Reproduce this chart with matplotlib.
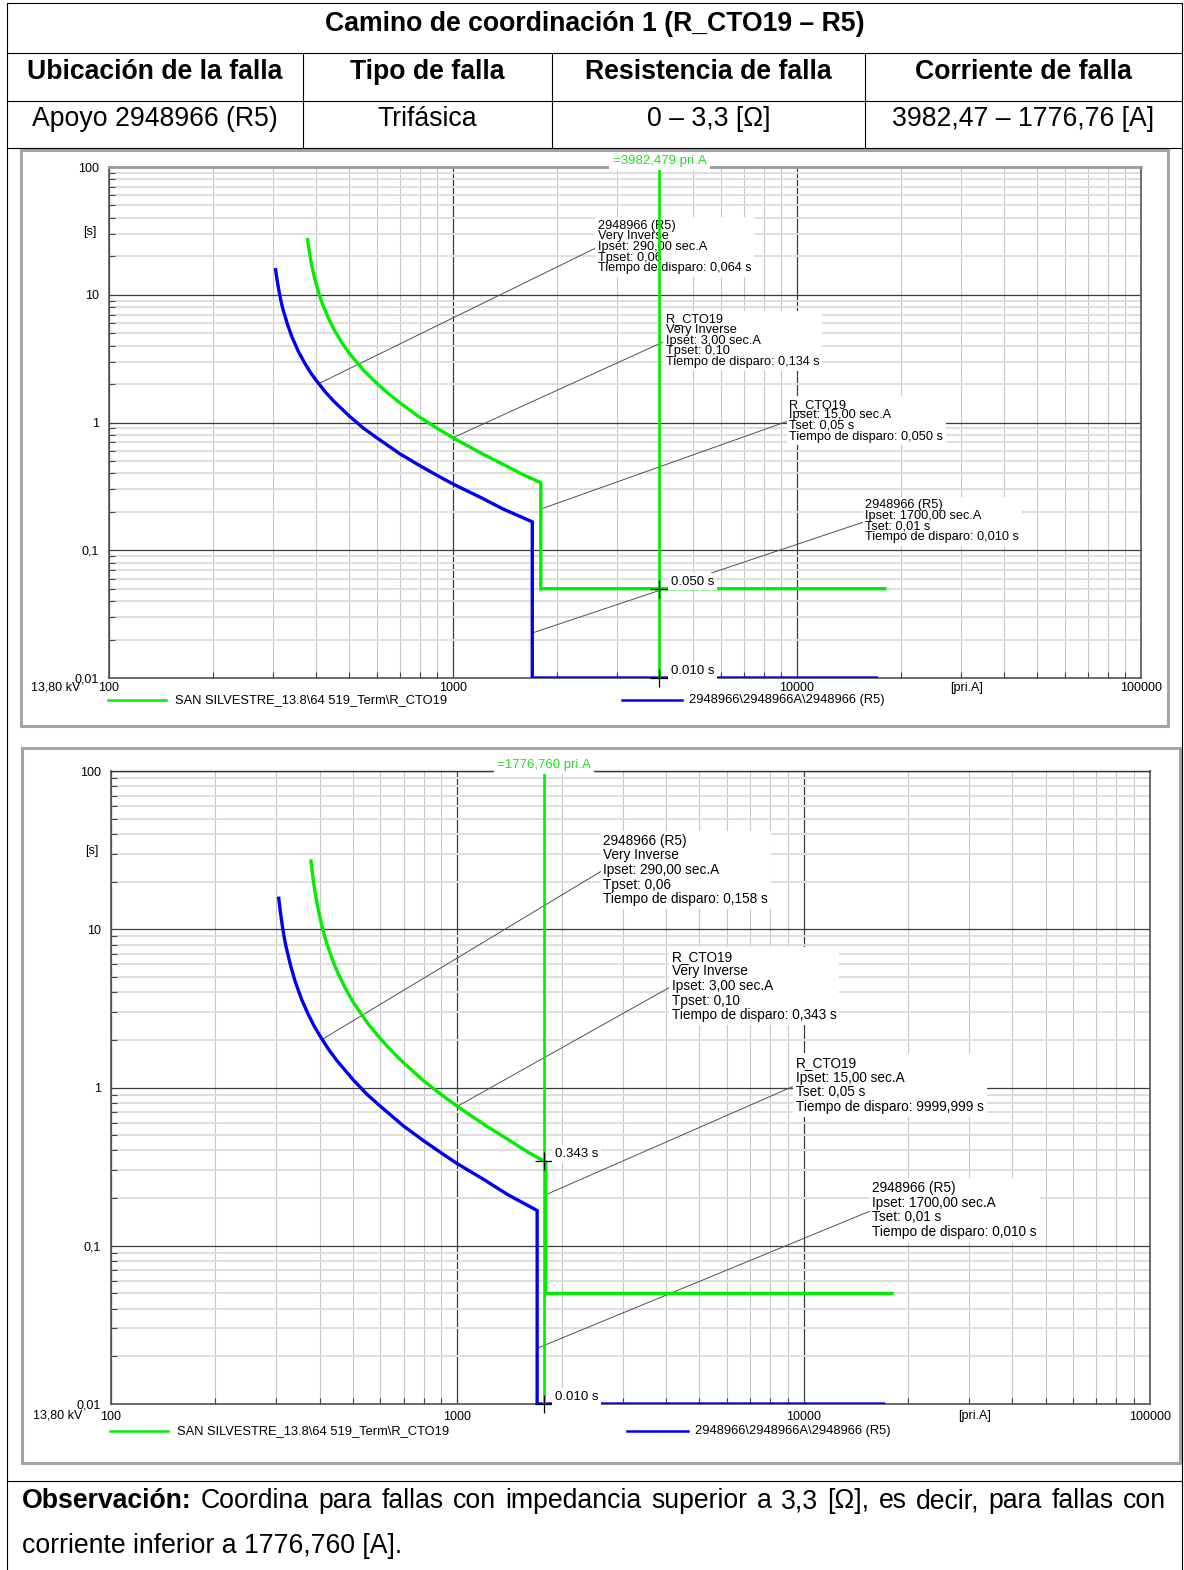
import matplotlib
matplotlib.use("Agg")
import matplotlib.pyplot as plt
import matplotlib.transforms as mtransforms
from matplotlib.patches import Rectangle
from matplotlib.lines import Line2D
from matplotlib.ticker import NullFormatter

plt.rcParams['font.family'] = ['Liberation Sans', 'DejaVu Sans']

W, H = 1184, 1570

# ---- table text ----
title = "Camino de coordinación 1 (R_CTO19 – R5)"
headers = ["Ubicación de la falla", "Tipo de falla", "Resistencia de falla", "Corriente de falla"]
row_values = ["Apoyo 2948966 (R5)", "Trifásica", "0 – 3,3 [Ω]", "3982,47 – 1776,76 [A]"]
obs_bold = "Observación:"
obs_line1 = "Coordina para fallas con impedancia superior a 3,3 [Ω], es decir, para fallas con"
obs_line2 = "corriente inferior a 1776,760 [A]."

# ---- curves (current in pri.A, time in s) ----
cto19_I = [378, 381, 385, 390, 395, 400, 410, 420, 435, 450, 475, 500, 550, 600, 650, 700,
           800, 900, 1000, 1100, 1200, 1400, 1600, 1800, 1800, 18000]
cto19_t = [27.0, 23.1, 19.4, 16.2, 13.9, 12.2, 9.7, 8.1, 6.5, 5.4, 4.23, 3.47, 2.56, 2.03, 1.68,
           1.43, 1.10, 0.90, 0.76, 0.66, 0.58, 0.47, 0.39, 0.338, 0.05, 0.05]
r5_I = [305, 308, 312, 316, 320, 330, 340, 355, 370, 385, 400, 425, 450, 500, 550, 600, 700,
        800, 900, 1000, 1200, 1400, 1700, 1700, 17000]
r5_t = [15.7, 13.1, 10.7, 9.0, 7.8, 5.9, 4.7, 3.61, 2.94, 2.47, 2.14, 1.74, 1.47, 1.12, 0.90,
        0.76, 0.57, 0.46, 0.385, 0.33, 0.26, 0.21, 0.167, 0.01, 0.01]

legend_cto19 = "SAN SILVESTRE_13.8\\64 519_Term\\R_CTO19"
legend_r5 = "2948966\\2948966A\\2948966 (R5)"

fault_I = [3982.479, 1776.760]
fault_labels = ["=3982,479 pri.A", "=1776,760 pri.A"]
mark_t = [[0.050, 0.010], [0.343, 0.010]]
mark_labels = [["0.050 s", "0.010 s"], ["0.343 s", "0.010 s"]]

# relay setting boxes: text anchor and leader tip
box_I = [2640, 4160, 9500, 15800]
box_t = [23.7, 4.37, 1.035, 0.168]
tip_I = [405, 1000, 1800, 1700]
tip_t = [2.0, 0.76, 0.21, 0.0225]
box_text = [
    ["2948966 (R5)\nVery Inverse\nIpset: 290,00 sec.A\nTpset: 0,06\nTiempo de disparo: 0,064 s",
     "R_CTO19\nVery Inverse\nIpset: 3,00 sec.A\nTpset: 0,10\nTiempo de disparo: 0,134 s",
     "R_CTO19\nIpset: 15,00 sec.A\nTset: 0,05 s\nTiempo de disparo: 0,050 s",
     "2948966 (R5)\nIpset: 1700,00 sec.A\nTset: 0,01 s\nTiempo de disparo: 0,010 s"],
    ["2948966 (R5)\nVery Inverse\nIpset: 290,00 sec.A\nTpset: 0,06\nTiempo de disparo: 0,158 s",
     "R_CTO19\nVery Inverse\nIpset: 3,00 sec.A\nTpset: 0,10\nTiempo de disparo: 0,343 s",
     "R_CTO19\nIpset: 15,00 sec.A\nTset: 0,05 s\nTiempo de disparo: 9999,999 s",
     "2948966 (R5)\nIpset: 1700,00 sec.A\nTset: 0,01 s\nTiempo de disparo: 0,010 s"],
]

GREEN = '#00ee00'
BLUE = '#0000f0'
TABLE_FS = 19.2


def fx(px):
    return px / W


def fy(py):
    return 1 - py / H


def hline(x0, x1, y):
    fig.add_artist(Line2D([fx(x0), fx(x1)], [fy(y), fy(y)], color='black', lw=0.8))


def vline(x, y0, y1):
    fig.add_artist(Line2D([fx(x), fx(x)], [fy(y0), fy(y1)], color='black', lw=0.8))


fig = plt.figure(figsize=(W / 100, H / 100), dpi=100)

# ---- table grid ----
for y in [3, 53, 101, 148, 1481]:
    hline(7, 1182, y)
vline(7, 3, 1570)
vline(1182, 3, 1570)
cols = [7, 303, 552, 865, 1182]
for x in cols[1:-1]:
    vline(x, 53, 148)

fig.text(fx(595), fy(24), title, fontsize=TABLE_FS, fontweight='bold', ha='center', va='center')
for i, h in enumerate(headers):
    cx = (cols[i] + cols[i + 1]) / 2
    fig.text(fx(cx), fy(72), h, fontsize=TABLE_FS, fontweight='bold', ha='center', va='center')
    fig.text(fx(cx), fy(119), row_values[i], fontsize=TABLE_FS, ha='center', va='center')

# ---- chart frames ----
for (x0, y0, x1, y1) in [(21, 150, 1168, 726), (22, 748, 1180, 1463)]:
    fig.add_artist(Rectangle((fx(x0), fy(y1)), (x1 - x0) / W, (y1 - y0) / H,
                             transform=fig.transFigure, fill=False, ec='#a4a4a4', lw=2.2))

axes_px = [(109, 167, 1141, 678), (111, 771, 1150, 1404)]
text_size = [9.2, 9.8]
line_sp = [0.85, 1.06]
top_color = ['#9a9a9a', '#333333']
top_lw = [2.0, 1.0]
tick_pad = [3, 5]
cap_off = [10, 12]
leg_off = [22, 27]

for k, (x0, y0, x1, y1) in enumerate(axes_px):
    ax = fig.add_axes([fx(x0), fy(y1), (x1 - x0) / W, (y1 - y0) / H])
    ax.set_xscale('log')
    ax.set_yscale('log')
    ax.set_xlim(100, 100000)
    ax.set_ylim(0.01, 100)
    ax.set_xticks([100, 1000, 10000, 100000], labels=["100", "1000", "10000", "100000"])
    ax.set_yticks([0.01, 0.1, 1, 10, 100], labels=["0,01", "0,1", "1", "10", "100"])
    ax.xaxis.set_minor_formatter(NullFormatter())
    ax.yaxis.set_minor_formatter(NullFormatter())
    ax.tick_params(which='both', direction='in', colors='#444444', labelcolor='black',
                   labelsize=9)
    ax.tick_params(which='major', length=0)
    ax.tick_params(axis='x', which='major', pad=tick_pad[k])
    ax.tick_params(axis='y', which='major', pad=7)
    ax.tick_params(which='minor', length=4, width=0.8)
    ax.grid(which='minor', axis='x', color='#c6c6c6', lw=0.8)
    ax.grid(which='minor', axis='y', color='#dedede', lw=1.4)
    ax.grid(which='major', color='#3c3c3c', lw=0.9)
    for s in ['left', 'bottom', 'right']:
        ax.spines[s].set_color('#555555')
        ax.spines[s].set_linewidth(1.2)
    ax.spines['top'].set_color(top_color[k])
    ax.spines['top'].set_linewidth(top_lw[k])

    # relay setting boxes with leader lines
    for j in range(4):
        ax.annotate(box_text[k][j], xy=(tip_I[j], tip_t[j]), xytext=(box_I[j], box_t[j]),
                    textcoords='data', ha='left', va='center', fontsize=text_size[k],
                    linespacing=line_sp[k], zorder=3,
                    bbox=dict(boxstyle='square,pad=0.2', fc='white', ec='none'),
                    arrowprops=dict(arrowstyle='-', color='#505050', lw=0.7,
                                    shrinkA=0, shrinkB=0, relpos=(0, 0.5)))

    # curves
    ax.plot(cto19_I, cto19_t, color=GREEN, lw=2.4, zorder=4, solid_joinstyle='miter')
    ax.plot(r5_I, r5_t, color=BLUE, lw=2.4, zorder=4, solid_joinstyle='miter')

    # fault current line
    ax.axvline(fault_I[k], color=GREEN, lw=1.9, zorder=4.5)
    blend = mtransforms.blended_transform_factory(ax.transData, ax.transAxes)
    ax.text(fault_I[k], 1.0 + 6 / (y1 - y0), fault_labels[k], transform=blend,
            ha='center', va='center', color='#22dd22', fontsize=9.5, zorder=6, clip_on=False,
            bbox=dict(boxstyle='square,pad=0.25', fc='white', ec='none'))
    for m in range(2):
        ax.plot([fault_I[k]], [mark_t[k][m]], marker='+', color='black', ms=13, mew=0.9,
                zorder=5, clip_on=False)
        ax.annotate(mark_labels[k][m], xy=(fault_I[k], mark_t[k][m]), xytext=(8, 5),
                    textcoords='offset points', ha='left', va='center', fontsize=9.5, zorder=6,
                    bbox=dict(boxstyle='square,pad=0.2', fc='white', ec='none'))

    # axis captions
    lab_y = -cap_off[k] / (y1 - y0)
    blend_y = mtransforms.blended_transform_factory(ax.transAxes, ax.transData)
    ax.text(-13 / (x1 - x0), 31, "[s]", transform=blend_y, ha='right', va='center', fontsize=9)
    ax.text(-78 / (x1 - x0), lab_y, "13,80 kV", transform=ax.transAxes, ha='left', va='center',
            fontsize=9)
    ax.text(0.831, lab_y, "[pri.A]", transform=ax.transAxes, ha='center', va='center', fontsize=9)

    # legend
    leg_y = -leg_off[k] / (y1 - y0)
    ax.plot([-0.001, 0.055], [leg_y, leg_y], transform=ax.transAxes, color=GREEN, lw=1.8,
            clip_on=False)
    ax.text(0.064, leg_y, legend_cto19, transform=ax.transAxes, ha='left', va='center', fontsize=9.3)
    ax.plot([0.497, 0.555], [leg_y, leg_y], transform=ax.transAxes, color=BLUE, lw=1.8,
            clip_on=False)
    ax.text(0.562, leg_y, legend_r5, transform=ax.transAxes, ha='left', va='center', fontsize=9.3)

# ---- observation (first line justified) ----
renderer = fig.canvas.get_renderer()
items = [(obs_bold, 'bold')] + [(w, 'normal') for w in obs_line1.split()]
texts = [fig.text(0, fy(1501), s, fontsize=TABLE_FS, fontweight=wt, ha='left', va='center')
         for s, wt in items]
widths = [t.get_window_extent(renderer).width for t in texts]
gap = (1166 - 22 - sum(widths)) / (len(texts) - 1)
x = 22
for t, w in zip(texts, widths):
    t.set_x(fx(x))
    x += w + gap
fig.text(fx(22), fy(1546), obs_line2, fontsize=TABLE_FS, ha='left', va='center')

fig.savefig("out.png", dpi=100)
